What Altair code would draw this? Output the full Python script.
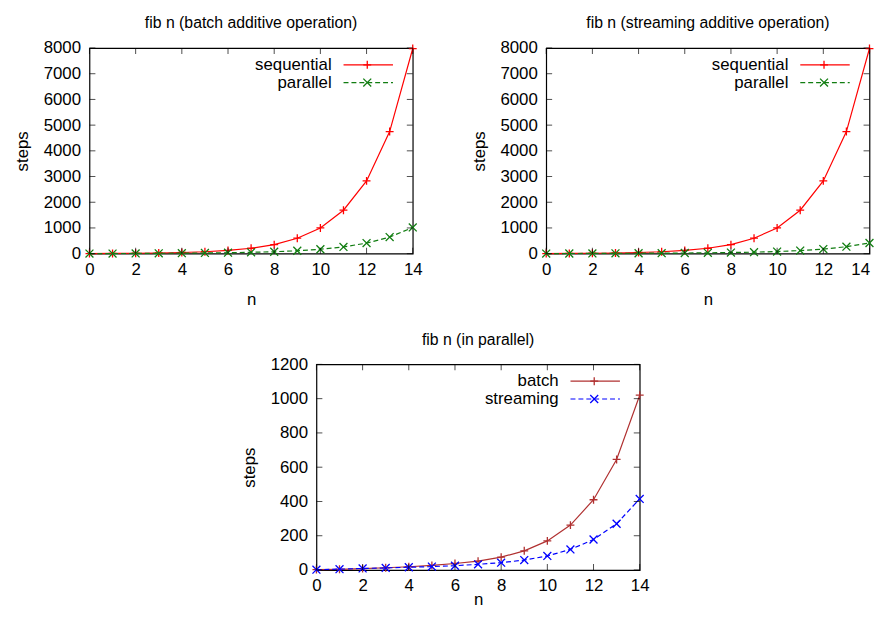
import altair as alt
import pandas as pd

# ---- data ----
n_values = list(range(15))
sequential = [3, 8, 15, 25, 45, 75, 125, 210, 350, 600, 1000, 1690, 2830, 4750, 7980]
batch_parallel = [2, 4, 8, 13, 19, 27, 38, 52, 75, 112, 170, 262, 410, 645, 1020]
streaming_parallel = [2, 5, 9, 12, 16, 20, 25, 33, 43, 58, 82, 120, 178, 270, 415]

x_ticks = [0, 2, 4, 6, 8, 10, 12, 14]
y_ticks_top = [0, 1000, 2000, 3000, 4000, 5000, 6000, 7000, 8000]
y_ticks_bottom = [0, 200, 400, 600, 800, 1000, 1200]

FONT = "Liberation Sans"
FS = 17
W, H = 327, 208
TICK = 6

PLUS = "M-1,0L1,0M0,-1L0,1"
CROSS = "M-1,-1L1,1M-1,1L1,-1"


def panel(title, series, ydomain, yticks, bottom=False, right_edge=False):
    xs = alt.Scale(domain=[0, 14], nice=False, zero=False)
    ys = alt.Scale(domain=ydomain, nice=False)
    xkw = dict(values=x_ticks, ticks=False, domain=False, grid=False, labelFlush=False,
               labelPadding=8, format="d")
    if bottom:
        xkw.update(titleY=35, titleBaseline="alphabetic")
    else:
        xkw.update(titlePadding=14)
    if right_edge:
        # keep the last label inside the page
        xkw["labelAlign"] = {"condition": {"test": "datum.value == 14", "value": "right"},
                             "value": "center"}
    xaxis = alt.Axis(**xkw)
    yaxis = alt.Axis(values=yticks, ticks=False, domain=False, grid=False, labelFlush=False,
                     labelPadding=9, titlePadding=12, format="d")

    def X(field):
        return alt.X(field, scale=xs, axis=xaxis, title="n")

    def Y(field):
        return alt.Y(field, scale=ys, axis=yaxis, title="steps")

    layers = []
    for name, values, color, dash, shape in series:
        df = pd.DataFrame({"n": n_values, "steps": values})
        line_kw = dict(color=color, strokeWidth=1.2, clip=False)
        if dash:
            line_kw["strokeDash"] = dash
        layers.append(alt.Chart(df).mark_line(**line_kw).encode(x=X("n:Q"), y=Y("steps:Q")))
        layers.append(
            alt.Chart(df).mark_point(shape=shape, size=64, filled=False, strokeWidth=1.3,
                                     color=color, opacity=1, clip=False)
            .encode(x=X("n:Q"), y=Y("steps:Q"))
        )
    # inward ticks on all four sides
    xt = pd.DataFrame({"t": x_ticks})
    yt = pd.DataFrame({"t": yticks})
    for ypix in (H - TICK / 2, TICK / 2):
        layers.append(alt.Chart(xt).mark_tick(orient="vertical", size=TICK, thickness=1, color="black")
                      .encode(x=X("t:Q"), y=alt.value(ypix)))
    for xpix in (TICK / 2, W - TICK / 2):
        layers.append(alt.Chart(yt).mark_tick(orient="horizontal", size=TICK, thickness=1, color="black")
                      .encode(y=Y("t:Q"), x=alt.value(xpix)))
    # gnuplot-style key inside the top-right corner
    for i, (name, values, color, dash, shape) in enumerate(series):
        ky = 17 + 18 * i
        ldf = pd.DataFrame({"label": [name]})
        layers.append(alt.Chart(ldf).mark_text(align="right", baseline="middle", font=FONT, fontSize=FS,
                                               color="black")
                      .encode(text="label:N", x=alt.value(W - 82), y=alt.value(ky)))
        rule_kw = dict(color=color, strokeWidth=1.2)
        if dash:
            rule_kw["strokeDash"] = dash
        layers.append(alt.Chart(ldf).mark_rule(**rule_kw)
                      .encode(x=alt.value(W - 70), x2=alt.value(W - 20), y=alt.value(ky)))
        layers.append(alt.Chart(ldf).mark_point(shape=shape, size=64, filled=False, strokeWidth=1.3,
                                                color=color, opacity=1)
                      .encode(x=alt.value(W - 46), y=alt.value(ky)))
    t = alt.Title(title, font=FONT, fontSize=16, fontWeight="normal", color="black", offset=8)
    return alt.layer(*layers).properties(width=W, height=H, title=t)


p1 = panel("fib n (batch additive operation)",
           [("sequential", sequential, "#ff0000", None, PLUS),
            ("parallel", batch_parallel, "#117d11", [5, 3], CROSS)],
           [0, 8000], y_ticks_top)
p2 = panel("fib n (streaming additive operation)",
           [("sequential", sequential, "#ff0000", None, PLUS),
            ("parallel", streaming_parallel, "#117d11", [5, 3], CROSS)],
           [0, 8000], y_ticks_top, right_edge=True)
p3 = panel("fib n (in parallel)",
           [("batch", batch_parallel, "#b03030", None, PLUS),
            ("streaming", streaming_parallel, "#0000ff", [5, 3], CROSS)],
           [0, 1200], y_ticks_bottom, bottom=True)

top = alt.hconcat(p1, p2, spacing=46)
chart = alt.vconcat(top, p3, spacing=23, center=True).properties(
    background="white",
    padding={"left": 4, "top": 3, "right": 0, "bottom": 0},
).configure_view(
    stroke="black", strokeWidth=1.2
).configure_axis(
    labelFont=FONT, titleFont=FONT, labelFontSize=FS, titleFontSize=FS,
    labelColor="black", titleColor="black", titleFontWeight="normal"
)

chart.save("out.html", embed_options={"renderer": "svg", "actions": False})
